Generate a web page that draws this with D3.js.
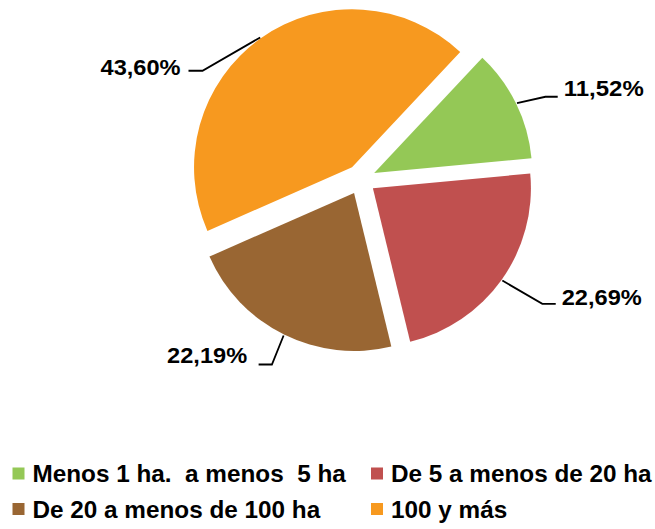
<!DOCTYPE html>
<html>
<head>
<meta charset="utf-8">
<script src="https://cdn.jsdelivr.net/npm/d3@7"></script>
<style>
  html, body { margin: 0; padding: 0; background: #fff; }
  svg text { font-family: "Liberation Sans", Arial, sans-serif; font-weight: bold; fill: #000; white-space: pre; }
</style>
</head>
<body>
<svg id="chart" width="655" height="529"></svg>
<script>
// ---- data ----
const categories = ["Menos 1 ha.  a menos  5 ha", "De 5 a menos de 20 ha", "De 20 a menos de 100 ha", "100 y más"];
const values = [11.52, 22.69, 22.19, 43.60];
const valueLabels = ["11,52%", "22,69%", "22,19%", "43,60%"];
const colors = ["#94C856", "#C0504F", "#996633", "#F7991F"];

// ---- layout (not data) ----
const cx = 360.7, cy = 179.5, radius = 158, explode = 15;
const startDeg = 43.2;
// leader elbow offsets from arc midpoint, horizontal run, side
const leaderLayout = [
  { dx: 28.4, dy: -6.3, run: 12.3, side: 1, gap: 6, base: -1 },
  { dx: 40, dy: 23.3, run: 13.4, side: 1, gap: 6, base: 1 },
  { dx: -11.7, dy: 29, run: 13.3, side: -1, gap: 11.5, base: -1.4 },
  { dx: -57.7, dy: 33.3, run: 14, side: -1, gap: 8, base: 4.2 }
];
const legendCols = [12.5, 371];
const legendRows = [473.5, 509];

const svg = d3.select("#chart");

const pie = d3.pie().sort(null).value(d => d)
  .startAngle(startDeg * Math.PI / 180)
  .endAngle(startDeg * Math.PI / 180 + 2 * Math.PI);
const arcs = pie(values);
const arc = d3.arc().innerRadius(0).outerRadius(radius);

const g = svg.append("g").attr("transform", `translate(${cx},${cy})`);

arcs.forEach((a, i) => {
  const mid = (a.startAngle + a.endAngle) / 2;
  const ox = Math.sin(mid) * explode, oy = -Math.cos(mid) * explode;
  g.append("path")
    .attr("d", arc(a))
    .attr("fill", colors[i])
    .attr("transform", `translate(${ox},${oy})`);

  // leader line
  const L = leaderLayout[i];
  const sx = ox + Math.sin(mid) * (radius + 1);
  const sy = oy - Math.cos(mid) * (radius + 1);
  const ex = sx + L.dx, ey = sy + L.dy;
  const hx = ex + L.side * L.run;
  g.append("polyline")
    .attr("points", `${sx},${sy} ${ex},${ey} ${hx},${ey}`)
    .attr("fill", "none")
    .attr("stroke", "#000")
    .attr("stroke-width", 1.8);

  g.append("text")
    .attr("x", hx + L.side * L.gap)
    .attr("y", ey + L.base)
    .attr("text-anchor", L.side > 0 ? "start" : "end")
    .attr("textLength", 80)
    .attr("lengthAdjust", "spacingAndGlyphs")
    .style("font-size", "21.5px")
    .text(valueLabels[i]);
});

// legend
[0, 1, 2, 3].forEach((i) => {
  const col = i % 2, row = Math.floor(i / 2);
  const x = legendCols[col], y = legendRows[row];
  svg.append("rect")
    .attr("x", x).attr("y", y - 6)
    .attr("width", 12).attr("height", 12)
    .attr("fill", colors[i]);
  svg.append("text")
    .attr("x", x + 20)
    .attr("y", y + 8.5)
    .style("font-size", "24.3px")
    .text(categories[i]);
});
</script>
</body>
</html>
